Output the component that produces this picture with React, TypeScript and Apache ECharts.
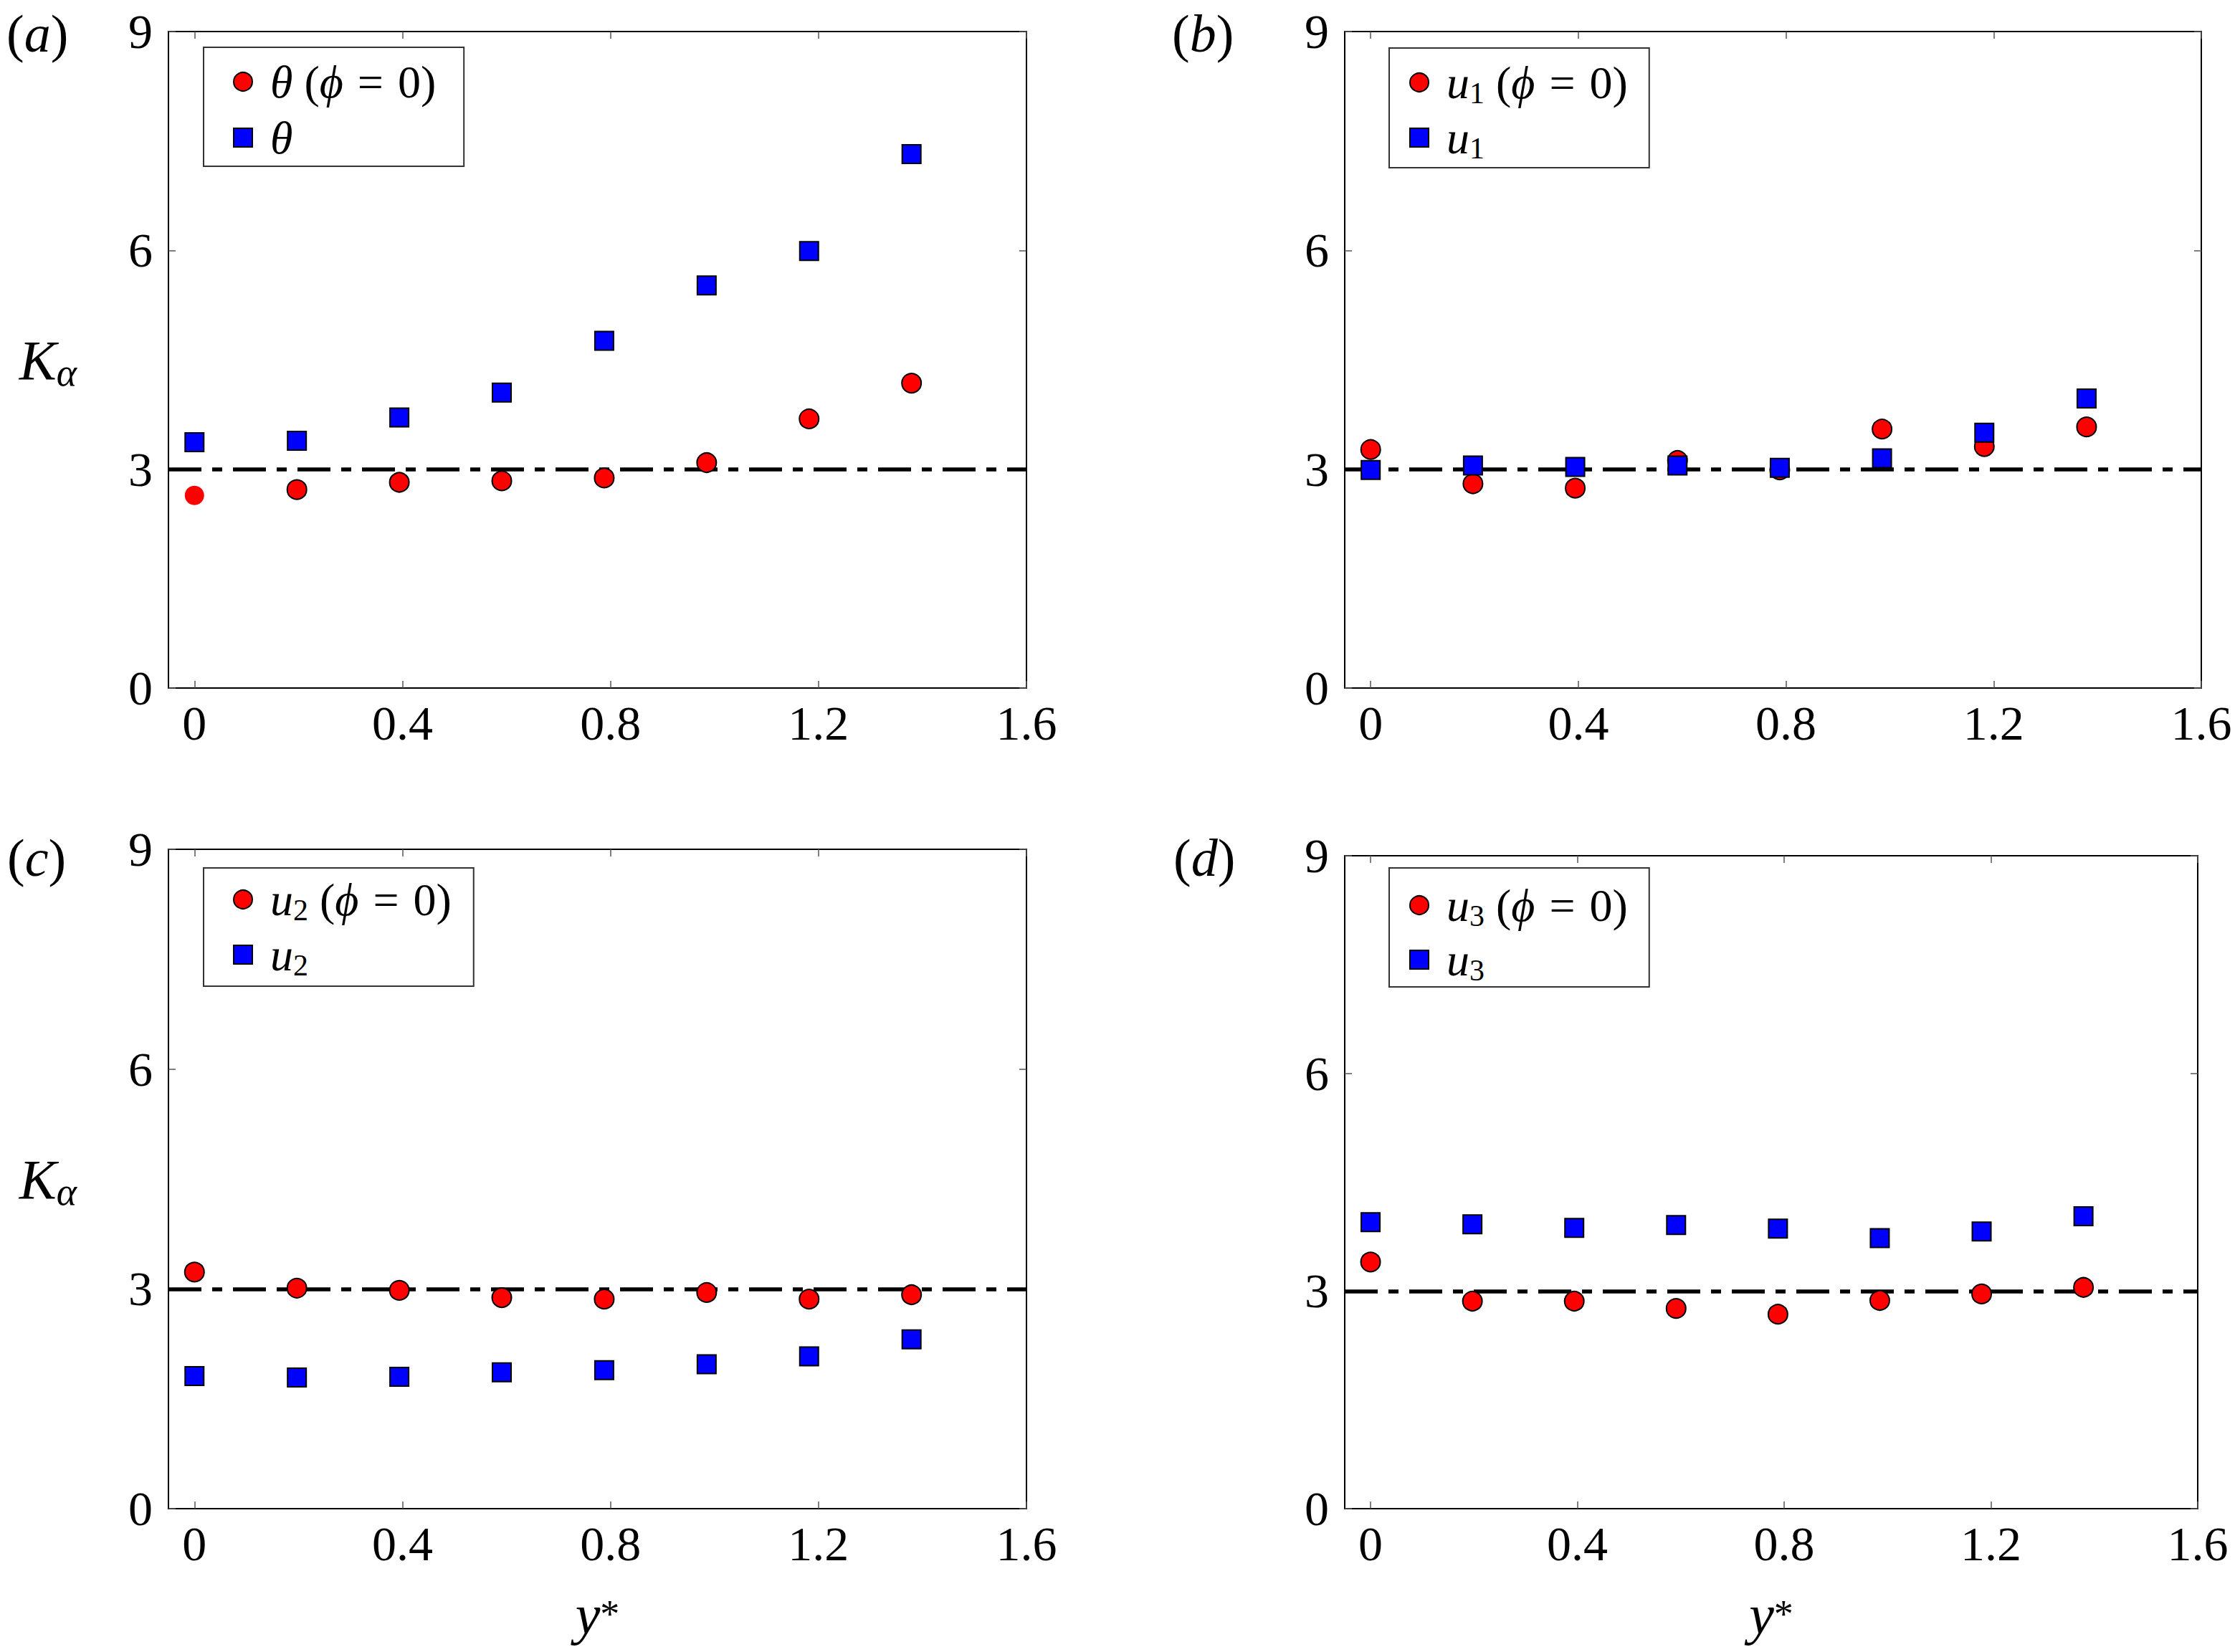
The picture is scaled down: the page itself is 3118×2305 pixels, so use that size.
import * as echarts from 'echarts';
import { useEffect, useRef } from 'react';

// wall-normal positions y* (same for every panel)
const yStar = [0, 0.197, 0.394, 0.591, 0.788, 0.985, 1.182, 1.379];
const xTicks = [0, 0.4, 0.8, 1.2, 1.6];
const yTicks = [0, 3, 6, 9];
const gaussianK = 3; // kurtosis of a Gaussian, dash-dot reference

// (a) temperature
const thetaPhi0 = [2.64, 2.72, 2.82, 2.84, 2.88, 3.09, 3.69, 4.18];
const theta = [3.37, 3.39, 3.71, 4.05, 4.76, 5.52, 5.99, 7.32];
// (b) streamwise velocity
const u1Phi0 = [3.27, 2.8, 2.74, 3.12, 2.99, 3.55, 3.31, 3.58];
const u1 = [2.99, 3.05, 3.03, 3.05, 3.02, 3.15, 3.5, 3.97];
// (c) wall-normal velocity
const u2Phi0 = [3.23, 3.01, 2.98, 2.88, 2.86, 2.95, 2.86, 2.92];
const u2 = [1.81, 1.79, 1.8, 1.86, 1.89, 1.97, 2.08, 2.31];
// (d) spanwise velocity
const u3Phi0 = [3.4, 2.86, 2.86, 2.76, 2.68, 2.87, 2.96, 3.05];
const u3 = [3.95, 3.92, 3.87, 3.91, 3.86, 3.73, 3.82, 4.03];

const FONT = "'Liberation Serif', 'DejaVu Serif', serif";

const panels = [
  { tag: 'a', sym: 'θ', sub: '', circle: thetaPhi0, square: theta },
  { tag: 'b', sym: 'u', sub: '1', circle: u1Phi0, square: u1 },
  { tag: 'c', sym: 'u', sub: '2', circle: u2Phi0, square: u2 },
  { tag: 'd', sym: 'u', sub: '3', circle: u3Phi0, square: u3 },
];

// page layout of each panel (px)
// legend rows: 64px tall without subscript, 72px with one
const layout = [
  { left: 235, top: 44, width: 1197, height: 916, lgLeft: 284, lgTop: 66, pad: [16, 39, 8, 41], gap: 14, tagX: 9, tagY: 10, yName: true, xName: false },
  { left: 1876, top: 44, width: 1195, height: 916, lgLeft: 1938, lgTop: 67, pad: [12, 30, 6, 28], gap: 5, tagX: 1635, tagY: 10, yName: false, xName: false },
  { left: 235, top: 1185, width: 1197, height: 920, lgLeft: 284, lgTop: 1211, pad: [8, 31, 8, 41], gap: 5, tagX: 10, tagY: 1160, yName: true, xName: true },
  { left: 1876, top: 1194, width: 1190, height: 911, lgLeft: 1938, lgTop: 1211, pad: [16, 30, 2, 28], gap: 4, tagX: 1637, tagY: 1160, yName: false, xName: true },
];

const LG = 64;
const legendRich = {
  f: { fontFamily: FONT, fontStyle: 'italic', fontSize: LG, padding: [0, 0, 0, 20], color: '#000' },
  m: { fontFamily: FONT, fontStyle: 'italic', fontSize: LG, color: '#000' },
  n: { fontFamily: FONT, fontSize: LG, color: '#000' },
  // equals sign set in a wider box, as in the typeset legend
  e: { fontFamily: FONT, fontSize: LG, width: 76, align: 'center', color: '#000' },
  s: { fontFamily: FONT, fontSize: 42, lineHeight: 34, padding: [30, 0, 0, 0], color: '#000' },
};

const frameLine = { show: true, onZero: false, lineStyle: { color: '#000', width: 2 } };
const tickStyle = { show: true, inside: true, length: 10, lineStyle: { color: '#555', width: 1.5 } };
const tickLabel = { fontFamily: FONT, fontSize: 68, color: '#000' };

const App = () => {
  const chartRef = useRef<HTMLDivElement>(null);

  useEffect(() => {
    if (!chartRef.current) return;
    const chart = echarts.init(chartRef.current, null, { renderer: 'svg' });

    const grid: any[] = [];
    const xAxis: any[] = [];
    const yAxis: any[] = [];
    const series: any[] = [];
    const legend: any[] = [];
    const graphic: any[] = [];

    panels.forEach((p, i) => {
      const l = layout[i];
      const base = p.sub ? `{f|${p.sym}}{s|${p.sub}}` : `{f|${p.sym}}`;
      const nameCircle = `${p.sym}${p.sub} (ϕ = 0)`;
      const nameSquare = `${p.sym}${p.sub}`;
      const richNames: Record<string, string> = {
        [nameCircle]: `${base}{n| (}{m|ϕ}{e|=}{n|0)}`,
        [nameSquare]: base,
      };

      grid.push({ left: l.left, top: l.top, width: l.width, height: l.height, containLabel: false, outerBoundsMode: 'none' });

      xAxis.push({
        type: 'value',
        gridIndex: i,
        position: 'bottom',
        min: -0.05,
        max: 1.6,
        axisLine: frameLine,
        axisTick: { ...tickStyle, customValues: xTicks },
        axisLabel: { ...tickLabel, customValues: xTicks, margin: 15 },
        splitLine: { show: false },
        name: l.xName ? '{y|y}{s|*}' : '',
        nameLocation: 'middle',
        nameGap: 108,
        nameTextStyle: {
          rich: {
            y: { fontFamily: FONT, fontStyle: 'italic', fontSize: 78, color: '#000' },
            s: { fontFamily: FONT, fontSize: 54, color: '#000' },
          },
        },
      });
      xAxis.push({
        type: 'value',
        gridIndex: i,
        position: 'top',
        min: -0.05,
        max: 1.6,
        axisLine: frameLine,
        axisTick: { ...tickStyle, customValues: xTicks },
        axisLabel: { show: false },
        splitLine: { show: false },
      });

      yAxis.push({
        type: 'value',
        gridIndex: i,
        position: 'left',
        min: yTicks[0],
        max: yTicks[yTicks.length - 1],
        interval: 3,
        axisLine: frameLine,
        axisTick: tickStyle,
        axisLabel: { ...tickLabel, margin: 22 },
        splitLine: { show: false },
        name: l.yName ? '{k|K}{a|α}' : '',
        nameLocation: 'middle',
        nameRotate: 0,
        nameGap: 128,
        nameTextStyle: {
          rich: {
            k: { fontFamily: FONT, fontStyle: 'italic', fontSize: 78, lineHeight: 80, color: '#000' },
            a: { fontFamily: FONT, fontStyle: 'italic', fontSize: 54, lineHeight: 44, padding: [36, 0, 0, 0], color: '#000' },
          },
        },
      });
      yAxis.push({
        type: 'value',
        gridIndex: i,
        position: 'right',
        min: yTicks[0],
        max: yTicks[yTicks.length - 1],
        interval: 3,
        axisLine: frameLine,
        axisTick: tickStyle,
        axisLabel: { show: false },
        splitLine: { show: false },
      });

      series.push({
        name: nameCircle,
        type: 'scatter',
        xAxisIndex: 2 * i,
        yAxisIndex: 2 * i,
        symbol: 'circle',
        symbolSize: 27,
        z: 3,
        itemStyle: { color: '#ff0000', borderColor: '#000', borderWidth: 2, opacity: 1 },
        data: p.circle.map((v, j) =>
          // the wall point of (a) is drawn without an outline in the source figure
          i === 0 && j === 0 ? { value: [yStar[j], v], itemStyle: { borderWidth: 0 } } : [yStar[j], v]
        ),
        markLine: {
          silent: true,
          z: 1,
          symbol: ['none', 'none'],
          label: { show: false },
          lineStyle: { color: '#000', width: 5.5, opacity: 1, type: [46, 15, 14, 15] },
          data: [{ yAxis: gaussianK }],
        },
      });
      series.push({
        name: nameSquare,
        type: 'scatter',
        xAxisIndex: 2 * i,
        yAxisIndex: 2 * i,
        symbol: 'rect',
        symbolSize: 26,
        z: 4,
        itemStyle: { color: '#0000ff', borderColor: '#000', borderWidth: 2, opacity: 1 },
        data: p.square.map((v, j) => [yStar[j], v]),
      });

      legend.push({
        orient: 'vertical',
        left: l.lgLeft,
        top: l.lgTop,
        padding: l.pad,
        itemGap: l.gap,
        itemWidth: 26,
        itemHeight: 26,
        borderColor: '#333',
        borderWidth: 2,
        borderRadius: 0,
        backgroundColor: '#fff',
        selectedMode: false,
        data: [nameCircle, nameSquare],
        formatter: (name: string) => richNames[name],
        textStyle: { fontFamily: FONT, fontSize: LG, color: '#000', rich: legendRich },
      });

      graphic.push({
        type: 'text',
        left: l.tagX,
        top: l.tagY,
        style: {
          text: `{p|(}{i|${p.tag}}{p|)}`,
          rich: {
            p: { fontFamily: FONT, fontSize: 74, fill: '#000' },
            i: { fontFamily: FONT, fontStyle: 'italic', fontSize: 74, fill: '#000' },
          },
        },
      });
    });

    chart.setOption({
      animation: false,
      backgroundColor: '#fff',
      grid,
      xAxis,
      yAxis,
      series,
      legend,
      graphic,
    });

    return () => {
      chart.dispose();
    };
  }, []);

  return (
    <div
      ref={chartRef}
      style={{ position: 'absolute', left: 0, top: 0, width: 3118, height: 2305 }}
    />
  );
};

export default App;
